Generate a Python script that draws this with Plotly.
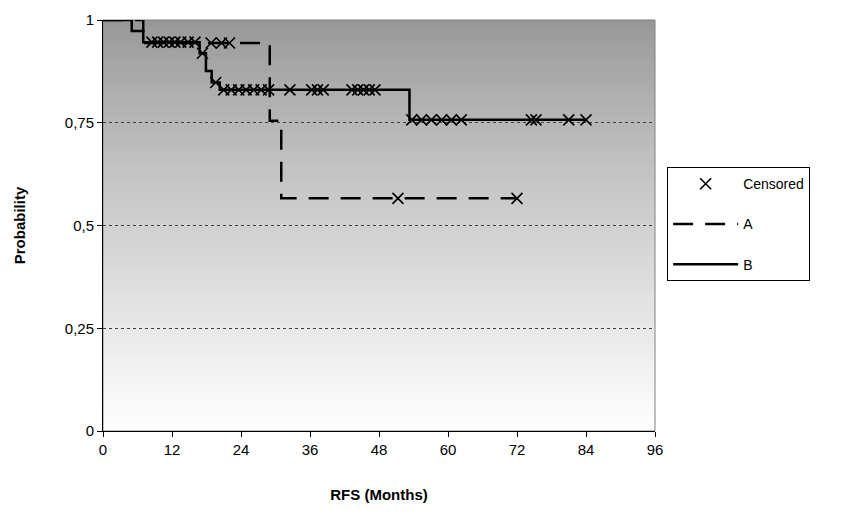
import plotly.graph_objects as go

# ---- data ----
a_times = [0, 7, 29, 31, 72]
a_surv = [1.0, 0.944, 0.755, 0.566, 0.566]
b_times = [0, 5, 7, 16.8, 17.9, 18.9, 20.3, 53.3, 84]
b_surv = [1.0, 0.973, 0.946, 0.919, 0.876, 0.848, 0.830, 0.757, 0.757]
a_censored = [18.8, 20.6, 22.0, 51.3, 72.0]
b_censored = [8.5, 9.5, 10.5, 11.5, 12.5, 13.5, 14.8, 16.0, 17.3, 19.6,
              21.0, 22.3, 23.6, 24.9, 26.2, 27.5, 28.8, 32.5, 36.3, 37.3,
              38.3, 43.3, 44.3, 45.3, 46.3, 47.3, 53.7, 55.4, 57.1, 58.9,
              60.6, 62.3, 74.5, 75.3, 81.0, 84.0]
y_ticks = [0, 0.25, 0.5, 0.75, 1]
y_tick_labels = ["0", "0,25", "0,5", "0,75", "1"]
x_ticks = [0, 12, 24, 36, 48, 60, 72, 84, 96]


def surv_at(times, surv, t):
    val = surv[0]
    for ti, si in zip(times, surv):
        if ti <= t:
            val = si
    return val


cx = a_censored + b_censored
cy = [surv_at(a_times, a_surv, t) for t in a_censored] + \
     [surv_at(b_times, b_surv, t) for t in b_censored]

FONT = "Liberation Sans, Arial, sans-serif"

fig = go.Figure()
fig.add_trace(go.Scatter(
    x=cx, y=cy, mode="markers", name="Censored", legendgroup="c",
    marker=dict(symbol="x-thin", size=11, line=dict(color="black", width=1.6)),
))
fig.add_trace(go.Scatter(
    x=a_times, y=a_surv, mode="lines", name="A", legendgroup="a",
    line=dict(shape="hv", color="black", width=2.5, dash="20px,12px"),
))
fig.add_trace(go.Scatter(
    x=b_times, y=b_surv, mode="lines", name="B", legendgroup="b",
    line=dict(shape="hv", color="black", width=2.5),
))

# gradient background of the plot area
shapes = []
n = 80
for i in range(n):
    f = (i + 0.5) / n  # 0 at top, 1 at bottom
    v = int(round(150 + 105 * f ** 0.85))
    v = min(v, 255)
    shapes.append(dict(
        type="rect", xref="x domain", yref="y domain",
        x0=0, x1=1, y0=max(0, 1 - (i + 1) / n - 0.004), y1=1 - i / n,
        fillcolor=f"rgb({v},{v},{v})", line=dict(width=0), layer="below",
    ))
shapes.append(dict(type="rect", xref="x domain", yref="y domain",
                   x0=0, x1=1, y0=0, y1=1,
                   line=dict(color="#808080", width=1), layer="below"))

fig.update_layout(
    width=854, height=514,
    margin=dict(l=103, r=199, t=20, b=83),
    paper_bgcolor="white",
    plot_bgcolor="rgba(0,0,0,0)",
    shapes=shapes,
    font=dict(family=FONT, size=14, color="black"),
    showlegend=True,
    legend=dict(
        x=1.022, y=0.642, xanchor="left", yanchor="top",
        bordercolor="black", borderwidth=1, bgcolor="white",
        font=dict(family=FONT, size=14, color="black"),
        tracegroupgap=19, itemwidth=65,
    ),
    xaxis=dict(
        range=[0, 96], tickvals=x_ticks, ticks="outside", ticklen=5,
        tickcolor="black", showline=True, linecolor="black", linewidth=1,
        showgrid=False, zeroline=False,
        title=dict(text="<b>RFS (Months)</b>", font=dict(size=15), standoff=32),
        tickfont=dict(size=15),
    ),
    yaxis=dict(
        range=[0, 1], tickvals=y_ticks, ticktext=y_tick_labels,
        ticks="outside", ticklen=5, tickcolor="black",
        showline=True, linecolor="black", linewidth=1,
        showgrid=True, gridcolor="#404040", griddash="dot", gridwidth=1,
        zeroline=False,
        title=dict(text="<b>Probability</b>", font=dict(size=15), standoff=35),
        tickfont=dict(size=15),
    ),
)

fig.write_html("out.html")
